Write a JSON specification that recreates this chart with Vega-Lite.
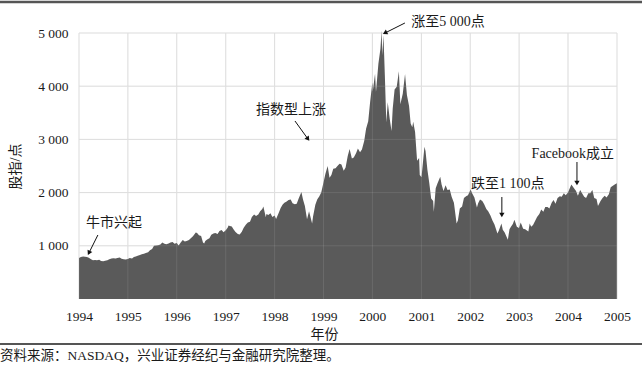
{
  "$schema": "https://vega.github.io/schema/vega-lite/v6.json",
  "width": 538,
  "height": 266,
  "autosize": {"type": "none"},
  "padding": {"left": 79, "top": 33, "right": 25, "bottom": 66},
  "background": "white",
  "config": {
    "view": {"stroke": null},
    "font": "Liberation Serif, Noto Sans CJK SC",
    "axis": {"labelFont": "Liberation Serif, Noto Sans CJK SC", "titleFont": "Liberation Serif, Noto Sans CJK SC", "labelColor": "#1a1a1a", "titleColor": "#1a1a1a", "labelFontSize": 13.5, "titleFontSize": 14, "titleFontWeight": "normal", "domain": false, "ticks": false, "grid": false},
    "title": {"font": "Liberation Serif, Noto Sans CJK SC"}
  },
  "title": {
    "text": "资料来源：NASDAQ，兴业证券经纪与金融研究院整理。",
    "orient": "bottom",
    "anchor": "start",
    "frame": "group",
    "dx": -79,
    "offset": 4,
    "fontSize": 13.5,
    "fontWeight": "normal",
    "color": "#1a1a1a"
  },
  "datasets": {
    "years": [{"yr":"1994-01-01"},{"yr":"1995-01-01"},{"yr":"1996-01-01"},{"yr":"1997-01-01"},{"yr":"1998-01-01"},{"yr":"1999-01-01"},{"yr":"2000-01-01"},{"yr":"2001-01-01"},{"yr":"2002-01-01"},{"yr":"2003-01-01"},{"yr":"2004-01-01"},{"yr":"2005-01-01"}],
    "levels": [{"lv":1000},{"lv":2000},{"lv":3000},{"lv":4000},{"lv":5000}],
    "nasdaq": [
      {"d":"1994-01-01","v":770},{"d":"1994-01-15","v":790},{"d":"1994-02-01","v":800},{"d":"1994-02-15","v":795},{"d":"1994-03-01","v":790},{"d":"1994-03-15","v":775},{"d":"1994-04-01","v":745},{"d":"1994-04-15","v":728},{"d":"1994-05-01","v":735},{"d":"1994-05-15","v":730},{"d":"1994-06-01","v":740},{"d":"1994-06-15","v":715},{"d":"1994-07-01","v":708},{"d":"1994-07-15","v":720},{"d":"1994-08-01","v":728},{"d":"1994-08-15","v":748},{"d":"1994-09-01","v":762},{"d":"1994-09-15","v":768},{"d":"1994-10-01","v":760},{"d":"1994-10-15","v":770},{"d":"1994-11-01","v":778},{"d":"1994-11-15","v":758},{"d":"1994-12-01","v":745},{"d":"1994-12-15","v":742},
      {"d":"1995-01-01","v":752},{"d":"1995-01-15","v":770},{"d":"1995-02-01","v":762},{"d":"1995-02-15","v":790},{"d":"1995-03-01","v":800},{"d":"1995-03-15","v":815},{"d":"1995-04-01","v":825},{"d":"1995-04-15","v":840},{"d":"1995-05-01","v":850},{"d":"1995-05-15","v":865},{"d":"1995-06-01","v":880},{"d":"1995-06-15","v":915},{"d":"1995-07-01","v":940},{"d":"1995-07-15","v":1000},{"d":"1995-08-01","v":1005},{"d":"1995-08-15","v":1010},{"d":"1995-09-01","v":1025},{"d":"1995-09-15","v":1060},{"d":"1995-10-01","v":1040},{"d":"1995-10-15","v":1030},{"d":"1995-11-01","v":1045},{"d":"1995-11-15","v":1060},{"d":"1995-12-01","v":1070},{"d":"1995-12-15","v":1040},
      {"d":"1996-01-01","v":1052},{"d":"1996-01-15","v":1005},{"d":"1996-02-01","v":1065},{"d":"1996-02-15","v":1110},{"d":"1996-03-01","v":1082},{"d":"1996-03-15","v":1092},{"d":"1996-04-01","v":1110},{"d":"1996-04-15","v":1140},{"d":"1996-05-01","v":1180},{"d":"1996-05-22","v":1250},{"d":"1996-06-01","v":1240},{"d":"1996-06-15","v":1200},{"d":"1996-07-01","v":1185},{"d":"1996-07-15","v":1060},{"d":"1996-07-24","v":1045},{"d":"1996-08-01","v":1090},{"d":"1996-08-15","v":1120},{"d":"1996-09-01","v":1140},{"d":"1996-09-15","v":1210},{"d":"1996-10-01","v":1230},{"d":"1996-10-15","v":1240},{"d":"1996-11-01","v":1220},{"d":"1996-11-15","v":1280},{"d":"1996-12-01","v":1295},{"d":"1996-12-15","v":1255},
      {"d":"1997-01-01","v":1290},{"d":"1997-01-15","v":1340},{"d":"1997-01-22","v":1380},{"d":"1997-02-01","v":1370},{"d":"1997-02-15","v":1365},{"d":"1997-03-01","v":1305},{"d":"1997-03-15","v":1260},{"d":"1997-04-01","v":1222},{"d":"1997-04-15","v":1212},{"d":"1997-05-01","v":1262},{"d":"1997-05-15","v":1340},{"d":"1997-06-01","v":1400},{"d":"1997-06-15","v":1440},{"d":"1997-07-01","v":1450},{"d":"1997-07-15","v":1540},{"d":"1997-08-01","v":1590},{"d":"1997-08-15","v":1560},{"d":"1997-09-01","v":1590},{"d":"1997-09-15","v":1650},{"d":"1997-10-01","v":1690},{"d":"1997-10-09","v":1740},{"d":"1997-10-27","v":1535},{"d":"1997-11-01","v":1600},{"d":"1997-11-15","v":1580},{"d":"1997-12-01","v":1610},{"d":"1997-12-15","v":1540},
      {"d":"1998-01-01","v":1570},{"d":"1998-01-12","v":1505},{"d":"1998-02-01","v":1620},{"d":"1998-02-15","v":1710},{"d":"1998-03-01","v":1770},{"d":"1998-03-15","v":1810},{"d":"1998-04-01","v":1835},{"d":"1998-04-15","v":1860},{"d":"1998-05-01","v":1870},{"d":"1998-05-15","v":1800},{"d":"1998-06-01","v":1780},{"d":"1998-06-15","v":1790},{"d":"1998-07-01","v":1900},{"d":"1998-07-20","v":2010},{"d":"1998-08-01","v":1870},{"d":"1998-08-15","v":1750},{"d":"1998-08-31","v":1500},{"d":"1998-09-15","v":1650},{"d":"1998-10-08","v":1420},{"d":"1998-10-15","v":1550},{"d":"1998-11-01","v":1770},{"d":"1998-11-15","v":1870},{"d":"1998-12-01","v":1930},{"d":"1998-12-15","v":2000},
      {"d":"1999-01-01","v":2192},{"d":"1999-01-15","v":2350},{"d":"1999-02-01","v":2500},{"d":"1999-02-15","v":2280},{"d":"1999-03-01","v":2330},{"d":"1999-03-15","v":2450},{"d":"1999-04-01","v":2460},{"d":"1999-04-15","v":2500},{"d":"1999-05-01","v":2540},{"d":"1999-05-15","v":2530},{"d":"1999-06-01","v":2410},{"d":"1999-06-15","v":2470},{"d":"1999-07-01","v":2690},{"d":"1999-07-15","v":2820},{"d":"1999-08-01","v":2640},{"d":"1999-08-15","v":2660},{"d":"1999-09-01","v":2740},{"d":"1999-09-15","v":2830},{"d":"1999-10-01","v":2760},{"d":"1999-10-15","v":2810},{"d":"1999-11-01","v":2970},{"d":"1999-11-15","v":3200},{"d":"1999-12-01","v":3340},{"d":"1999-12-15","v":3700},
      {"d":"2000-01-01","v":4069},{"d":"2000-01-04","v":3900},{"d":"2000-01-21","v":4235},{"d":"2000-01-28","v":3890},{"d":"2000-02-15","v":4420},{"d":"2000-03-01","v":4700},{"d":"2000-03-10","v":5048},{"d":"2000-03-15","v":4580},{"d":"2000-03-24","v":4960},{"d":"2000-04-03","v":4220},{"d":"2000-04-14","v":3320},{"d":"2000-04-25","v":3700},{"d":"2000-05-10","v":3380},{"d":"2000-05-23","v":3160},{"d":"2000-06-01","v":3580},{"d":"2000-06-15","v":3940},{"d":"2000-07-01","v":3990},{"d":"2000-07-17","v":4280},{"d":"2000-07-28","v":3660},{"d":"2000-08-15","v":3860},{"d":"2000-09-01","v":4230},{"d":"2000-09-15","v":3835},{"d":"2000-10-01","v":3630},{"d":"2000-10-13","v":3300},{"d":"2000-10-25","v":3230},{"d":"2000-11-01","v":3330},{"d":"2000-11-15","v":3140},{"d":"2000-11-30","v":2600},{"d":"2000-12-15","v":2650},{"d":"2000-12-20","v":2330},
      {"d":"2001-01-02","v":2290},{"d":"2001-01-24","v":2860},{"d":"2001-02-01","v":2780},{"d":"2001-02-15","v":2430},{"d":"2001-03-01","v":2180},{"d":"2001-03-15","v":1890},{"d":"2001-03-30","v":1840},{"d":"2001-04-04","v":1640},{"d":"2001-04-18","v":2080},{"d":"2001-05-01","v":2170},{"d":"2001-05-22","v":2300},{"d":"2001-06-01","v":2150},{"d":"2001-06-15","v":2030},{"d":"2001-07-01","v":2140},{"d":"2001-07-15","v":2050},{"d":"2001-08-01","v":2060},{"d":"2001-08-15","v":1920},{"d":"2001-09-01","v":1810},{"d":"2001-09-21","v":1420},{"d":"2001-10-01","v":1480},{"d":"2001-10-15","v":1700},{"d":"2001-11-01","v":1740},{"d":"2001-11-15","v":1900},{"d":"2001-12-01","v":1930},{"d":"2001-12-15","v":1950},
      {"d":"2002-01-04","v":2060},{"d":"2002-01-15","v":1990},{"d":"2002-02-01","v":1910},{"d":"2002-02-20","v":1720},{"d":"2002-03-01","v":1800},{"d":"2002-03-15","v":1870},{"d":"2002-04-01","v":1840},{"d":"2002-04-15","v":1780},{"d":"2002-05-01","v":1690},{"d":"2002-05-15","v":1650},{"d":"2002-06-01","v":1570},{"d":"2002-06-15","v":1480},{"d":"2002-07-01","v":1400},{"d":"2002-07-23","v":1230},{"d":"2002-08-01","v":1280},{"d":"2002-08-22","v":1420},{"d":"2002-09-01","v":1300},{"d":"2002-09-15","v":1250},{"d":"2002-10-09","v":1114},{"d":"2002-10-21","v":1310},{"d":"2002-11-01","v":1360},{"d":"2002-11-15","v":1410},{"d":"2002-11-27","v":1490},{"d":"2002-12-15","v":1360},{"d":"2002-12-31","v":1335},
      {"d":"2003-01-13","v":1440},{"d":"2003-01-31","v":1320},{"d":"2003-02-15","v":1310},{"d":"2003-03-11","v":1270},{"d":"2003-03-21","v":1420},{"d":"2003-04-01","v":1360},{"d":"2003-04-15","v":1390},{"d":"2003-05-01","v":1470},{"d":"2003-05-15","v":1540},{"d":"2003-06-01","v":1600},{"d":"2003-06-15","v":1680},{"d":"2003-07-01","v":1640},{"d":"2003-07-15","v":1730},{"d":"2003-08-01","v":1730},{"d":"2003-08-15","v":1700},{"d":"2003-09-01","v":1810},{"d":"2003-09-15","v":1860},{"d":"2003-09-30","v":1790},{"d":"2003-10-15","v":1900},{"d":"2003-11-01","v":1930},{"d":"2003-11-15","v":1920},{"d":"2003-12-01","v":1990},{"d":"2003-12-15","v":1950},
      {"d":"2004-01-01","v":2003},{"d":"2004-01-26","v":2150},{"d":"2004-02-15","v":2080},{"d":"2004-03-01","v":2030},{"d":"2004-03-15","v":1940},{"d":"2004-04-01","v":2050},{"d":"2004-04-15","v":1990},{"d":"2004-05-01","v":1920},{"d":"2004-05-15","v":1900},{"d":"2004-06-01","v":1990},{"d":"2004-06-15","v":1990},{"d":"2004-07-01","v":2050},{"d":"2004-07-15","v":1900},{"d":"2004-08-01","v":1880},{"d":"2004-08-12","v":1750},{"d":"2004-08-31","v":1840},{"d":"2004-09-15","v":1900},{"d":"2004-10-01","v":1940},{"d":"2004-10-15","v":1910},{"d":"2004-11-01","v":1970},{"d":"2004-11-15","v":2100},{"d":"2004-12-01","v":2130},{"d":"2004-12-15","v":2150},{"d":"2004-12-31","v":2175}
    ],
    "notes": [
      {"label":"牛市兴起","tx":"1994-09-19","ty":1429,"x1":"1994-05-22","y1":1203,"x2":"1994-03-16","y2":865,"dir":206.6},
      {"label":"指数型上涨","tx":"1998-05-03","ty":3553,"x1":"1998-06-02","y1":3346,"x2":"1998-09-07","y2":3008,"dir":144.2},
      {"label":"涨至5 000点","tx":"2001-07-18","ty":5207,"x1":"2000-08-31","y1":5188,"x2":"2000-04-04","y2":5000,"dir":243.4},
      {"label":"跌至1 100点","tx":"2002-10-09","ty":2162,"x1":"2002-08-25","y1":1917,"x2":"2002-08-25","y2":1579,"dir":180},
      {"label":"Facebook成立","tx":"2004-02-06","ty":2726,"x1":"2004-03-08","y1":2575,"x2":"2004-03-08","y2":2180,"dir":180}
    ]
  },
  "encoding": {
    "x": {
      "type": "temporal",
      "scale": {"type": "utc", "domain": [{"year":1994,"month":1,"date":1,"utc":true},{"year":2005,"month":1,"date":1,"utc":true}]},
      "axis": {
        "values": [{"year":1994,"month":1,"date":1,"utc":true},{"year":1995,"month":1,"date":1,"utc":true},{"year":1996,"month":1,"date":1,"utc":true},{"year":1997,"month":1,"date":1,"utc":true},{"year":1998,"month":1,"date":1,"utc":true},{"year":1999,"month":1,"date":1,"utc":true},{"year":2000,"month":1,"date":1,"utc":true},{"year":2001,"month":1,"date":1,"utc":true},{"year":2002,"month":1,"date":1,"utc":true},{"year":2003,"month":1,"date":1,"utc":true},{"year":2004,"month":1,"date":1,"utc":true},{"year":2005,"month":1,"date":1,"utc":true}],
        "format": "%Y", "formatType": "utc",
        "title": "年份", "labelPadding": 10, "labelFlush": false,
        "titleX": 245, "titleY": 35, "titleBaseline": "middle", "titleAnchor": null, "titleAlign": "center"
      }
    },
    "y": {
      "type": "quantitative",
      "scale": {"domain": [0, 5000], "nice": false},
      "axis": {
        "values": [1000, 2000, 3000, 4000, 5000],
        "labelExpr": "replace(format(datum.value, ','), ',', ' ')",
        "title": "股指/点", "labelPadding": 11,
        "titleX": -64, "titleY": 133, "titleAngle": -90, "titleBaseline": "middle", "titleAlign": "center", "titleAnchor": null
      }
    }
  },
  "layer": [
    {
      "data": {"name": "years"},
      "mark": {"type": "rule", "color": "#d9d9d9", "strokeWidth": 1},
      "encoding": {"x": {"field": "yr"}}
    },
    {
      "data": {"name": "levels"},
      "mark": {"type": "rule", "color": "#d9d9d9", "strokeWidth": 1},
      "encoding": {"y": {"field": "lv"}}
    },
    {
      "data": {"name": "nasdaq"},
      "mark": {"type": "area", "color": "#5a5a5a", "interpolate": "linear"},
      "encoding": {
        "x": {"field": "d"},
        "y": {"field": "v"}
      }
    },
    {
      "data": {"name": "years"},
      "mark": {"type": "rule", "color": "#ffffff", "strokeWidth": 1, "opacity": 0.1},
      "encoding": {"x": {"field": "yr"}}
    },
    {
      "data": {"name": "levels"},
      "mark": {"type": "rule", "color": "#ffffff", "strokeWidth": 1, "opacity": 0.1},
      "encoding": {"y": {"field": "lv"}}
    },
    {
      "data": {"name": "notes"},
      "mark": {"type": "rule", "color": "#111111", "strokeWidth": 1},
      "encoding": {
        "x": {"field": "x1"},
        "y": {"field": "y1"},
        "x2": {"field": "x2"},
        "y2": {"field": "y2"}
      }
    },
    {
      "data": {"name": "notes"},
      "mark": {"type": "point", "shape": "triangle-up", "filled": true, "color": "#111111", "size": 28, "opacity": 1},
      "encoding": {
        "x": {"field": "x2"},
        "y": {"field": "y2"},
        "angle": {"field": "dir", "type": "quantitative", "scale": null}
      }
    },
    {
      "data": {"name": "notes"},
      "mark": {"type": "text", "fontSize": 14, "color": "#1a1a1a", "align": "center", "baseline": "middle", "font": "Liberation Serif, Noto Sans CJK SC"},
      "encoding": {
        "x": {"field": "tx"},
        "y": {"field": "ty"},
        "text": {"field": "label"}
      }
    },
    {
      "data": {"values": [{"edge": "top"}]},
      "mark": {"type": "rule", "color": "#555555", "strokeWidth": 2.5, "clip": false},
      "encoding": {
        "x": {"datum": {"year":1992,"month":1,"date":1,"utc":true}},
        "x2": {"datum": {"year":2006,"month":1,"date":1,"utc":true}},
        "y": {"datum": 5585}
      }
    },
    {
      "data": {"values": [{"edge": "bottom"}]},
      "mark": {"type": "rule", "color": "#555555", "strokeWidth": 2, "clip": false},
      "encoding": {
        "x": {"datum": {"year":1992,"month":1,"date":1,"utc":true}},
        "x2": {"datum": {"year":2006,"month":1,"date":1,"utc":true}},
        "y": {"datum": -846}
      }
    }
  ]
}
